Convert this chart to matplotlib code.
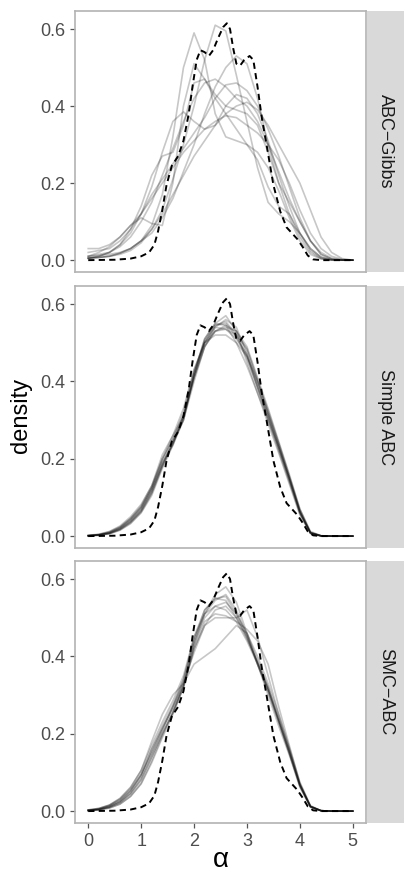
import numpy as np
import matplotlib
matplotlib.use("Agg")
import matplotlib.pyplot as plt

plt.rcParams['font.family'] = ['Liberation Sans', 'DejaVu Sans']

# ---------------- data ----------------
alpha_grid = [0.0, 0.2, 0.4, 0.6, 0.8, 1.0, 1.2, 1.4, 1.6, 1.8, 2.0, 2.2, 2.4,
              2.6, 2.8, 3.0, 3.2, 3.4, 3.6, 3.8, 4.0, 4.2, 4.4, 4.6, 4.8, 5.0]

true_x = [0, 0.5, 0.8, 1.0, 1.15, 1.25, 1.32, 1.40, 1.48, 1.58, 1.70, 1.80, 1.90,
          1.97, 2.05, 2.12, 2.2, 2.28, 2.36, 2.45, 2.55, 2.62, 2.68, 2.74, 2.80,
          2.87, 2.95, 3.05, 3.12, 3.2, 3.28, 3.37, 3.5, 3.63, 3.75, 3.85, 3.95,
          4.05, 4.15, 4.25, 4.4, 5.0]
true_y = [0, 0.001, 0.004, 0.01, 0.02, 0.04, 0.075, 0.13, 0.195, 0.245, 0.27,
          0.31, 0.38, 0.45, 0.52, 0.545, 0.54, 0.53, 0.545, 0.575, 0.605, 0.615,
          0.6, 0.55, 0.51, 0.505, 0.52, 0.53, 0.52, 0.45, 0.37, 0.30, 0.195,
          0.126, 0.085, 0.07, 0.055, 0.035, 0.012, 0.002, 0, 0]

methods = ["ABC\u2212Gibbs", "Simple ABC", "SMC\u2212ABC"]

gibbs_runs = [
    [.01, .012, .015, .02, .03, .05, .09, .17, .32, .50, .59, .52, .38, .32, .31, .30, .26, .19, .14, .12, .07, .025, .005, .001, 0, 0],
    [.005, .007, .01, .015, .025, .045, .08, .13, .21, .30, .40, .52, .61, .595, .48, .36, .24, .15, .12, .10, .07, .03, .008, .001, 0, 0],
    [.01, .02, .035, .06, .09, .11, .095, .09, .20, .40, .51, .47, .42, .38, .34, .30, .28, .24, .18, .11, .05, .015, .003, 0, 0, 0],
    [.005, .007, .01, .018, .03, .05, .07, .11, .16, .23, .30, .38, .45, .50, .53, .51, .42, .30, .20, .15, .10, .05, .015, .003, 0, 0],
    [.02, .025, .03, .05, .08, .12, .17, .21, .25, .29, .33, .37, .42, .455, .46, .44, .40, .34, .27, .19, .11, .05, .015, .003, 0, 0],
    [.005, .01, .02, .04, .08, .14, .22, .27, .28, .35, .46, .47, .43, .40, .39, .38, .35, .28, .20, .12, .06, .02, .004, 0, 0, 0],
    [.01, .015, .02, .035, .06, .10, .15, .22, .29, .36, .42, .46, .47, .45, .42, .40, .36, .30, .23, .16, .10, .05, .02, .005, .001, 0],
    [.005, .01, .02, .04, .07, .12, .19, .28, .36, .385, .36, .34, .35, .40, .43, .42, .38, .31, .22, .14, .07, .03, .008, .001, 0, 0],
    [.005, .007, .01, .018, .03, .05, .08, .12, .17, .22, .27, .31, .35, .38, .40, .41, .39, .35, .30, .25, .20, .13, .06, .02, .004, 0],
    [.03, .03, .04, .06, .09, .12, .16, .20, .24, .28, .31, .34, .36, .375, .37, .35, .33, .30, .26, .20, .13, .07, .03, .01, .002, 0],
]

simple_runs = [
    [.001, .004, .010, .022, .045, .075, .125, .20, .25, .31, .41, .49, .53, .54, .53, .49, .41, .33, .245, .16, .07, .012, .001, 0, 0, 0],
    [.001, .002, .006, .016, .034, .062, .11, .18, .24, .30, .42, .51, .55, .57, .53, .45, .37, .29, .215, .135, .055, .007, .0005, 0, 0, 0],
    [.001, .003, .009, .022, .043, .074, .125, .195, .25, .32, .43, .50, .53, .535, .51, .47, .395, .315, .23, .145, .062, .009, .0005, 0, 0, 0],
    [.001, .003, .007, .018, .037, .066, .115, .185, .245, .30, .40, .49, .54, .56, .54, .47, .385, .30, .22, .14, .058, .007, .0004, 0, 0, 0],
    [.002, .005, .012, .026, .05, .082, .13, .20, .26, .33, .43, .50, .52, .52, .50, .465, .40, .325, .24, .155, .07, .01, .001, 0, 0, 0],
    [.001, .003, .008, .019, .039, .068, .12, .19, .235, .30, .41, .50, .545, .555, .52, .465, .385, .305, .225, .145, .06, .008, .0005, 0, 0, 0],
    [.001, .002, .006, .015, .032, .06, .105, .175, .235, .31, .42, .51, .55, .545, .50, .44, .37, .30, .23, .15, .066, .009, .0005, 0, 0, 0],
    [.001, .004, .011, .024, .046, .078, .13, .21, .26, .31, .41, .49, .53, .545, .53, .48, .40, .315, .235, .15, .062, .007, .0004, 0, 0, 0],
    [.001, .003, .008, .02, .041, .071, .12, .185, .24, .305, .415, .505, .545, .55, .515, .46, .385, .31, .23, .15, .063, .009, .0005, 0, 0, 0],
    [.001, .003, .007, .017, .036, .064, .112, .18, .24, .31, .42, .50, .54, .535, .52, .485, .405, .32, .24, .155, .065, .008, .0005, 0, 0, 0],
]

smc_runs = [
    [.003, .007, .015, .03, .056, .095, .15, .21, .27, .33, .38, .40, .42, .45, .48, .46, .40, .33, .25, .165, .075, .014, .001, 0, 0, 0],
    [.001, .003, .008, .018, .038, .07, .125, .19, .25, .32, .43, .51, .56, .58, .54, .46, .38, .30, .22, .145, .062, .01, .001, 0, 0, 0],
    [.002, .006, .015, .032, .06, .105, .18, .25, .30, .33, .41, .48, .52, .53, .50, .45, .38, .31, .23, .15, .065, .011, .001, 0, 0, 0],
    [.002, .004, .01, .022, .045, .082, .14, .20, .255, .32, .42, .48, .50, .50, .50, .52, .45, .35, .25, .16, .07, .012, .001, 0, 0, 0],
    [.001, .004, .01, .022, .044, .08, .14, .20, .255, .32, .42, .49, .51, .505, .49, .47, .44, .38, .27, .17, .072, .013, .001, 0, 0, 0],
    [.002, .005, .012, .026, .052, .092, .16, .22, .275, .34, .45, .52, .55, .555, .51, .45, .385, .315, .235, .155, .068, .012, .001, 0, 0, 0],
    [.003, .007, .016, .033, .062, .105, .17, .23, .285, .35, .45, .51, .53, .52, .49, .44, .38, .315, .235, .155, .068, .012, .001, 0, 0, 0],
    [.001, .003, .008, .018, .038, .072, .13, .195, .255, .33, .44, .52, .55, .545, .50, .445, .385, .32, .24, .16, .07, .012, .001, 0, 0, 0],
    [.002, .005, .013, .027, .053, .095, .16, .215, .265, .325, .43, .50, .53, .54, .51, .46, .39, .32, .235, .15, .066, .011, .001, 0, 0, 0],
    [.002, .004, .011, .024, .048, .088, .15, .21, .27, .34, .44, .51, .545, .56, .52, .455, .38, .31, .23, .15, .065, .011, .001, 0, 0, 0],
]

x_ticks = [0, 1, 2, 3, 4, 5]
y_ticks = [0.0, 0.2, 0.4, 0.6]
y_tick_labels = ["0.0", "0.2", "0.4", "0.6"]

# ---------------- figure ----------------
W, H = 413, 886
fig = plt.figure(figsize=(W / 100, H / 100), dpi=100)

def fx(px):
    return px / W

def fy(py):
    return 1 - py / H

panel_left, panel_right = 75, 366
strip_left, strip_right = 367, 404
panel_tb = [(11, 272), (286, 548), (561, 823)]

all_runs = [gibbs_runs, simple_runs, smc_runs]
border_col = "#B3B3B3"
tick_col = "#555555"

for i, (top, bot) in enumerate(panel_tb):
    ax = fig.add_axes([fx(panel_left), fy(bot), fx(panel_right - panel_left),
                       (bot - top) / H])
    for run in all_runs[i]:
        ax.plot(alpha_grid, run, color="black", alpha=0.22, lw=1.2,
                solid_joinstyle="round")
    ax.plot(true_x, true_y, color="black", lw=1.4, linestyle=(0, (3.2, 2.2)))
    ax.set_xlim(-0.25, 5.25)
    ax.set_ylim(-0.0308, 0.6468)
    ax.set_yticks(y_ticks)
    ax.set_yticklabels(y_tick_labels)
    ax.set_xticks(x_ticks)
    for s in ax.spines.values():
        s.set_color(border_col)
        s.set_linewidth(1.2)
    ax.tick_params(axis="both", color=tick_col, length=3.6, width=0.9,
                   labelsize=13, labelcolor="#4D4D4D", pad=3.5)
    if i < 2:
        ax.tick_params(axis="x", bottom=False, labelbottom=False)
    # strip
    sax = fig.add_axes([fx(strip_left), fy(bot), fx(strip_right - strip_left),
                        (bot - top) / H])
    sax.set_facecolor("#D9D9D9")
    sax.set_xticks([])
    sax.set_yticks([])
    for s in sax.spines.values():
        s.set_visible(False)
    sax.text(0.5, 0.5, methods[i], rotation=270, ha="center", va="center",
             fontsize=13, color="#1A1A1A", transform=sax.transAxes)

fig.text(fx(21), fy(415), "density", rotation=90, ha="center", va="center",
         fontsize=17, color="black")
fig.text(fx(221), fy(860), "\u03b1", ha="center", va="center",
         fontsize=20, color="black")

fig.savefig("out.png", dpi=100)
